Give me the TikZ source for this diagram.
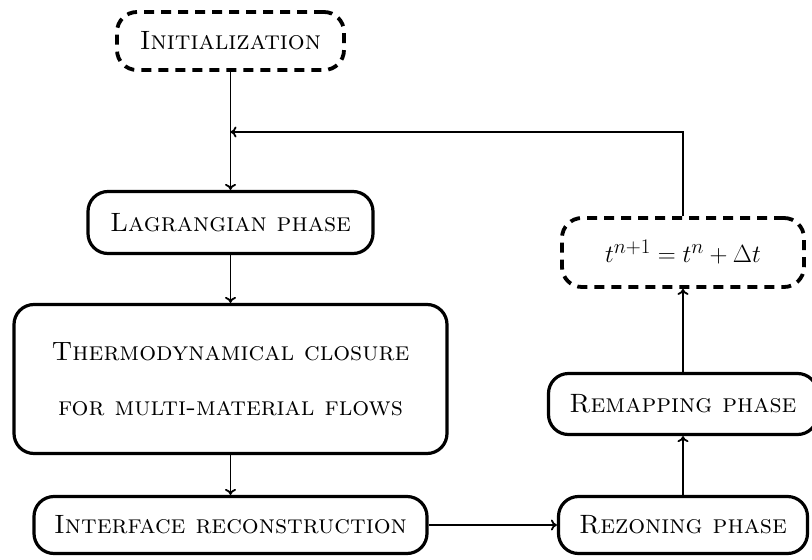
\documentclass[tikz,border=0pt]{standalone}
\usetikzlibrary{arrows.meta}
\begin{document}
\begin{tikzpicture}[x=1pt,y=-1pt,
  box/.style={draw, line width=3.2pt, rounded corners=20pt, align=center,
    font=\fontsize{26.5}{32}\selectfont, inner sep=0pt},
  dbox/.style={box, line width=3.8pt, dash pattern=on 10pt off 7pt},
  arr/.style={-{To[length=6pt,width=11pt]}, line width=1.8pt}]
\useasboundingbox (0,0) rectangle (812,560);
\node[dbox, minimum width=227pt, minimum height=58pt] (init) at (230.5,41) {\textsc{Initialization}};
\node[box, minimum width=285pt, minimum height=62pt] (lag) at (230.5,222.5) {\textsc{Lagrangian phase}};
\node[box, minimum width=433pt, minimum height=149pt, font=\fontsize{26.5}{55}\selectfont] (thermo) at (230.5,379)
  {\textsc{Thermodynamical closure}\\\textsc{for multi-material flows}};
\node[box, minimum width=393pt, minimum height=57pt] (iface) at (230.5,525) {\textsc{Interface reconstruction}};
\node[box, minimum width=249pt, minimum height=57pt] (rez) at (683,525) {\textsc{Rezoning phase}};
\node[box, minimum width=269pt, minimum height=61pt] (rem) at (683,404) {\textsc{Remapping phase}};
\node[dbox, minimum width=242pt, minimum height=69pt, font=\fontsize{32.5}{40}\selectfont] (tn) at (683,252.5) {$t^{n+1}=t^{n}+\Delta t$};
\coordinate (turn) at (tn.north |- 0,132);
\coordinate (join) at (init.south |- 0,132);
\draw[arr] (init.south) -- (lag.north);
\draw[arr] (tn.north) -- (turn) -- (join);
\draw[arr] (lag.south) -- (thermo.north);
\draw[arr] (thermo.south) -- (iface.north);
\draw[arr] (iface.east) -- (rez.west);
\draw[arr] (rez.north) -- (rem.south);
\draw[arr] (rem.north) -- (tn.south);
\end{tikzpicture}
\end{document}
